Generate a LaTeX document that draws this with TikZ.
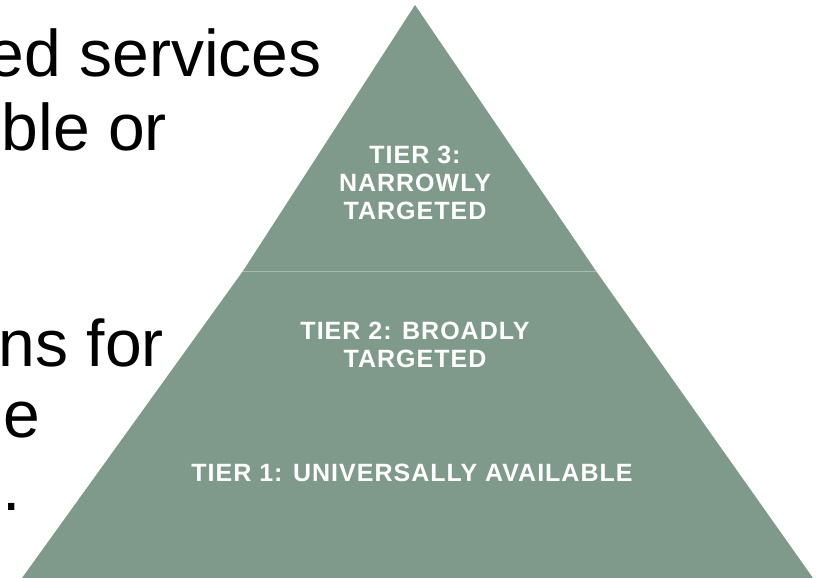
\documentclass[tikz,border=0pt]{standalone}
\usepackage{fontspec}
\setmainfont{Liberation Sans}
\newfontfamily\tierfont[LetterSpace=4]{Liberation Sans}
\usetikzlibrary{positioning}
\definecolor{tiergreen}{RGB}{127,153,138}
\definecolor{tierline}{RGB}{166,188,174}

\begin{document}
\begin{tikzpicture}[x=1pt,y=-1pt,
    tierlabel/.style={text=white, inner sep=0pt, align=center, font=\tierfont\bfseries\fontsize{25}{28}\selectfont},
    slidetext/.style={anchor=base east, inner sep=0pt, font=\fontsize{66}{72}\selectfont}]
  \useasboundingbox (0,0) rectangle (823,578);
  \clip (0,0) rectangle (823,578);

  % slide text behind the pyramid
  \node[slidetext] (line1) at (322,77) {ed services};
  \node[slidetext] (line2) at (167,150) {ble or};
  \node[slidetext] (line3) at (164,366) {ns for};
  \node[slidetext] (line4) at (40,437) {e};
  \node[slidetext] (line5) at (21,510) {.};

  % pyramid
  \coordinate (apex) at (415,5);
  \coordinate (midl) at (243,271);
  \coordinate (midr) at (596,271);
  \coordinate (basel) at (22,578);
  \coordinate (baser) at (813,578);
  \fill[tiergreen] (apex) -- (midr) -- (midl) -- cycle;
  \fill[tiergreen] (midl) -- (midr) -- (baser) -- (basel) -- cycle;
  \draw[tierline, line width=1pt] (midl) -- (midr);

  \node[tierlabel] (tier3) at (415,183) {TIER 3:\\NARROWLY\\TARGETED};
  \node[tierlabel] (tier2) at (415,345) {TIER 2: BROADLY\\TARGETED};
  \node[tierlabel] (tier1) at (412,473) {TIER 1: UNIVERSALLY AVAILABLE};
\end{tikzpicture}
\end{document}
